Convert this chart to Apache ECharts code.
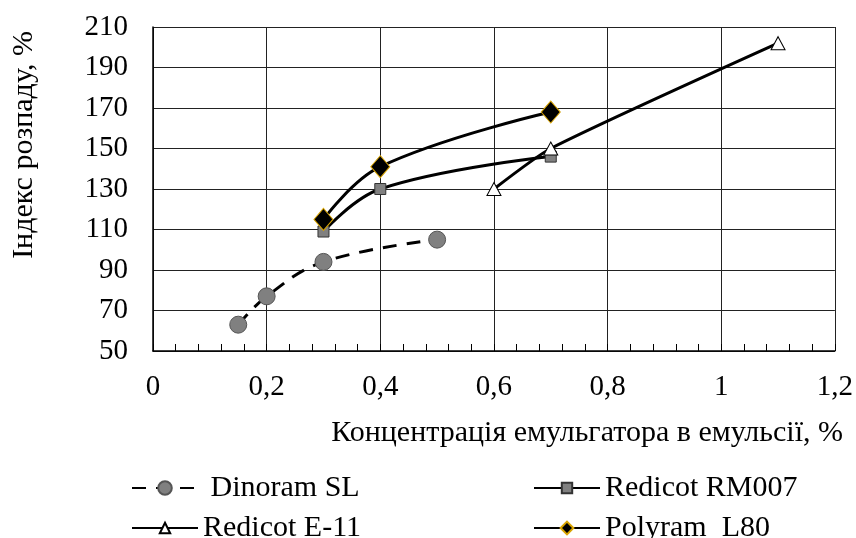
<!DOCTYPE html>
<html>
<head>
<meta charset="utf-8">
<script src="https://cdn.jsdelivr.net/npm/echarts@6/dist/echarts.min.js"></script>
<style>
  html, body { margin: 0; padding: 0; background: #fff; }
  #chart { width: 856px; height: 538px; }
</style>
</head>
<body>
<div id="chart"></div>
<script>
// дані
const dinoramX = [0.15, 0.2, 0.3, 0.5]
const dinoramY = [63, 77, 94, 105]
const rm007X = [0.3, 0.4, 0.7]
const rm007Y = [109, 130, 146]
const e11X = [0.6, 0.7, 1.1]
const e11Y = [130, 150, 202]
const polyramX = [0.3, 0.4, 0.7]
const polyramY = [115, 141, 168]

const pairs = (xs, ys) => xs.map((x, i) => [x, ys[i]])
const font = '"Liberation Serif", "Times New Roman", serif'
const legendText = { fontSize: 30, fontFamily: font, color: '#000' }

// одна легенда на кожну серію, щоб розставити їх у дві колонки
const legendItem = (name, left, top, h) => ({
    left: left, top: top, padding: 0,
    itemWidth: 66, itemHeight: h,
    textStyle: legendText,
    data: [name]
})

let mycharts = echarts.init(document.getElementById('chart'))
mycharts.setOption({
    backgroundColor: '#fff',
    animation: false,
    textStyle: { fontFamily: font, color: '#000' },
    grid: { left: 153, right: 16, top: 27, bottom: 187 },
    xAxis: {
        type: 'value',
        min: 0,
        max: 1.2,
        interval: 0.2,
        axisLine: { lineStyle: { color: '#000', width: 1.5 } },
        axisTick: { show: true, inside: true, length: 7, lineStyle: { color: '#000' } },
        minorTick: { show: true, splitNumber: 5, length: 7, lineStyle: { color: '#000' } },
        splitLine: { show: true, lineStyle: { color: '#222', width: 1 } },
        axisLabel: {
            margin: 22,
            fontSize: 29,
            fontFamily: font,
            color: '#000',
            formatter: (v) => String(Math.round(v * 10) / 10).replace('.', ',')
        }
    },
    yAxis: {
        type: 'value',
        min: 50,
        max: 210,
        interval: 20,
        axisLine: { show: true, lineStyle: { color: '#000', width: 1.5 } },
        axisTick: { show: false },
        splitLine: { show: true, lineStyle: { color: '#222', width: 1 } },
        axisLabel: { margin: 25, fontSize: 29, fontFamily: font, color: '#000' }
    },
    graphic: [
        {
            type: 'text',
            x: 843,
            y: 433,
            style: {
                text: 'Концентрація емульгатора в емульсії, %',
                font: '30px "Liberation Serif", "Times New Roman", serif', fill: '#000',
                align: 'right', verticalAlign: 'middle'
            }
        },
        {
            type: 'text',
            x: 24,
            y: 145,
            rotation: Math.PI / 2,
            style: {
                text: 'Індекс розпаду, %',
                font: '30px "Liberation Serif", "Times New Roman", serif', fill: '#000',
                align: 'center', verticalAlign: 'middle'
            }
        }
    ],
    legend: [
        legendItem(' Dinoram SL', 131, 473, 17),
        legendItem('Redicot E-11', 131, 513, 13),
        legendItem('Redicot RM007', 533, 473, 13),
        legendItem('Polyram  L80', 533, 513, 16)
    ],
    series: [
        {
            name: ' Dinoram SL',
            type: 'line',
            smooth: 0.4,
            data: pairs(dinoramX, dinoramY),
            symbol: 'circle',
            symbolSize: 17,
            lineStyle: { color: '#000', width: 3, type: [14, 10] },
            itemStyle: { color: '#808080', borderColor: '#555', borderWidth: 1 },
            z: 3
        },
        {
            name: 'Redicot RM007',
            type: 'line',
            smooth: 0.4,
            data: pairs(rm007X, rm007Y),
            symbol: 'rect',
            symbolSize: 11,
            lineStyle: { color: '#000', width: 3 },
            itemStyle: { color: '#808080', borderColor: '#333', borderWidth: 1 },
            z: 4
        },
        {
            name: 'Redicot E-11',
            type: 'line',
            smooth: 0.2,
            data: pairs(e11X, e11Y),
            symbol: 'triangle',
            symbolSize: [14, 13],
            lineStyle: { color: '#000', width: 3 },
            itemStyle: { color: '#fff', borderColor: '#000', borderWidth: 1 },
            z: 5
        },
        {
            name: 'Polyram  L80',
            type: 'line',
            smooth: 0.4,
            data: pairs(polyramX, polyramY),
            symbol: 'diamond',
            symbolSize: [19, 22],
            lineStyle: { color: '#000', width: 3 },
            itemStyle: { color: '#000', borderColor: '#d9a400', borderWidth: 1 },
            z: 6
        }
    ]
})
</script>
</body>
</html>
